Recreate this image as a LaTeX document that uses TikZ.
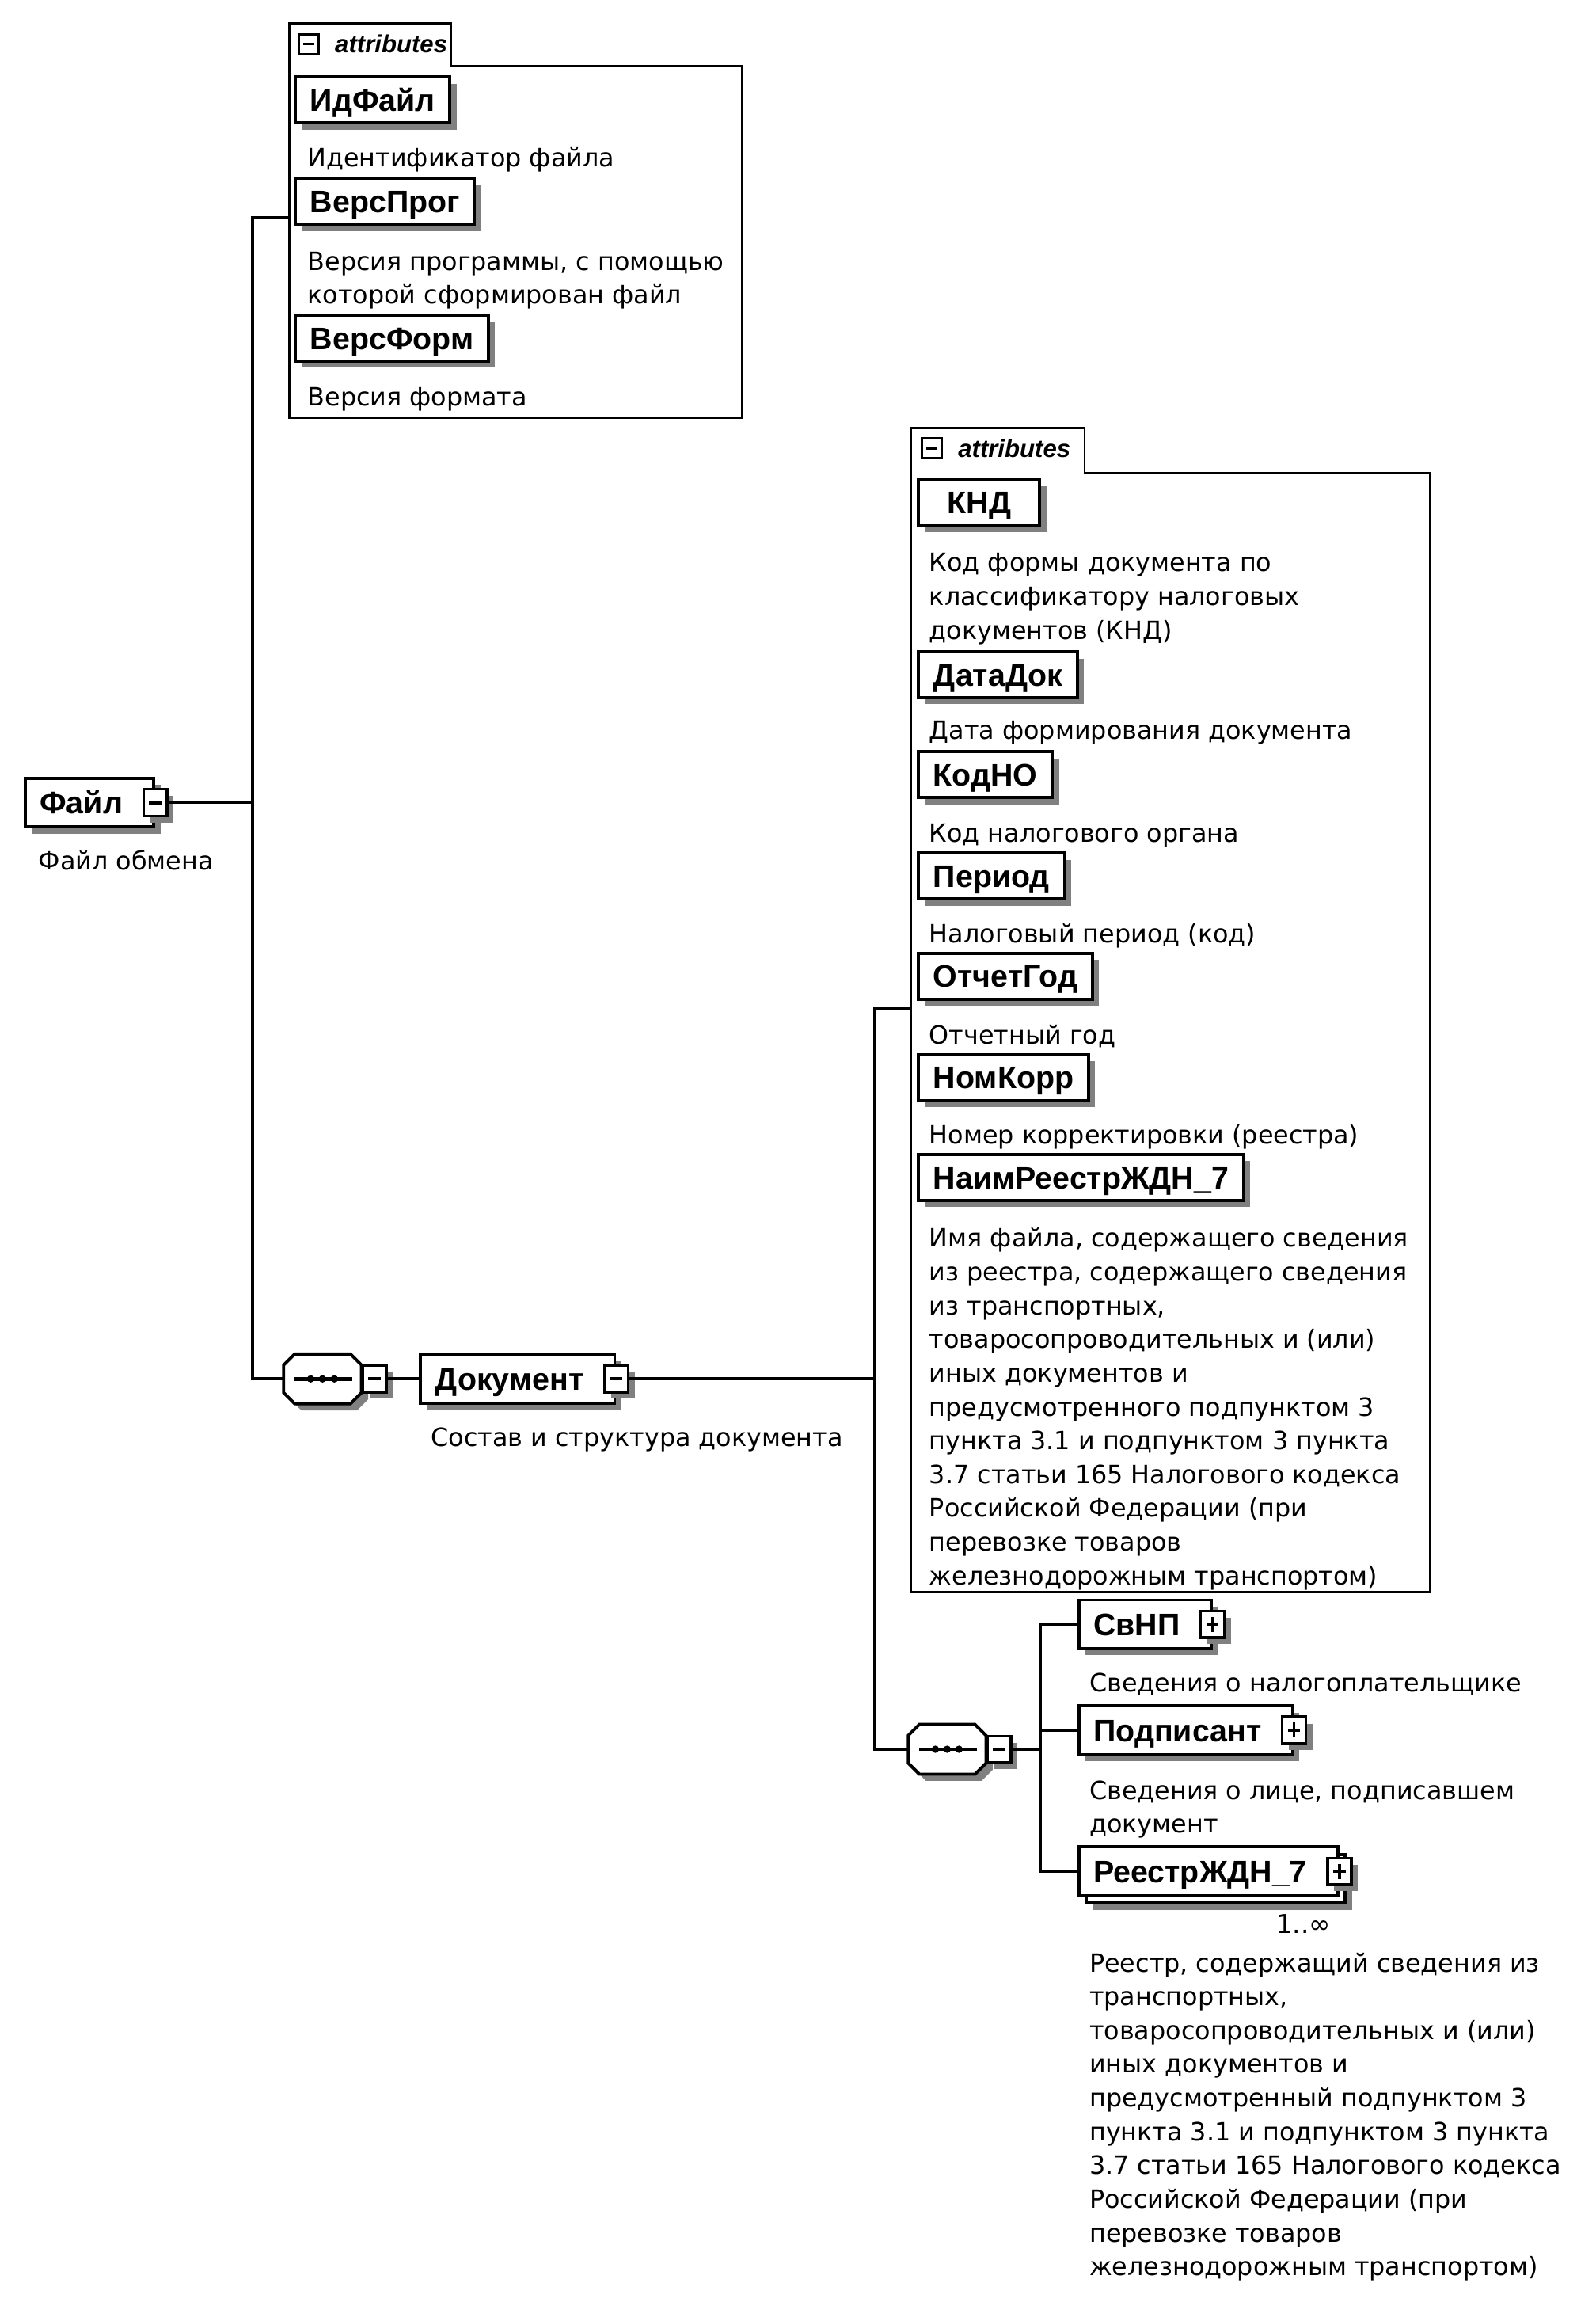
\documentclass[tikz,border=0pt]{standalone}
\usepackage{fontspec}
\setmainfont{DejaVu Sans}
\newfontfamily\namefont{Liberation Sans}
\usepackage{tikz}
\usetikzlibrary{positioning,shadows}

\tikzset{
  wire/.style={line width=1.1pt},
  grp/.style={line width=0.9pt},
  boxshadow/.style={drop shadow={shadow xshift=0.09cm, shadow yshift=-0.09cm, fill=black!50, opacity=1}},
  attr/.style={draw, line width=1.2pt, fill=white, boxshadow, anchor=west,
    font=\namefont\bfseries\fontsize{12}{14}\selectfont,
    inner xsep=0.2cm, inner ysep=0pt, text height=8.6pt, text depth=0pt,
    minimum height=0.62cm, minimum width=1.64cm},
  elem/.style={attr, minimum height=0.66cm, execute at end node={\hspace*{0.22cm}}},
  desc/.style={anchor=north west, inner sep=0pt, align=left, font=\fontsize{9.7}{13}\selectfont},
  btn/.style={draw, line width=1pt, fill=white, boxshadow, minimum width=0.32cm, minimum height=0.36cm, inner sep=0pt},
  btnminus/.style={btn, path picture={
    \draw[line width=1.2pt] ([xshift=2.2pt]path picture bounding box.west) -- ([xshift=-2.2pt]path picture bounding box.east);}},
  btnplus/.style={btn, path picture={
    \draw[line width=1.2pt] ([xshift=2.2pt]path picture bounding box.west) -- ([xshift=-2.2pt]path picture bounding box.east);
    \draw[line width=1.2pt] ([yshift=2.2pt]path picture bounding box.south) -- ([yshift=-2.2pt]path picture bounding box.north);}},
  seqbox/.style={rectangle, minimum width=1.04cm, minimum height=0.66cm, inner sep=0pt, anchor=west},
  seqline/.style={draw, line width=1.2pt, fill=white, boxshadow},
  tabbtn/.style={draw, line width=0.9pt, minimum size=0.27cm, inner sep=0pt, path picture={
    \draw[line width=1pt] ([xshift=1.8pt]path picture bounding box.west) -- ([xshift=-1.8pt]path picture bounding box.east);}},
  tabtext/.style={inner sep=0pt, font=\namefont\bfseries\itshape\fontsize{9.5}{11}\selectfont},
  occurs/.style={inner sep=0pt, font=\fontsize{10}{12}\selectfont}
}

\newcommand\seqmark[1]{%
  \draw[seqline] ([xshift=0.15cm]#1.north west) -- ([xshift=-0.15cm]#1.north east)
    -- ([yshift=-0.15cm]#1.north east) -- ([yshift=0.15cm]#1.south east)
    -- ([xshift=-0.15cm]#1.south east) -- ([xshift=0.15cm]#1.south west)
    -- ([yshift=0.15cm]#1.south west) -- ([yshift=-0.15cm]#1.north west) -- cycle;
  \draw[line width=1.4pt] ([xshift=0.15cm]#1.west) -- ([xshift=-0.12cm]#1.east);
  \fill (#1.center) circle (0.05cm) ([xshift=-0.16cm]#1.center) circle (0.05cm)
    ([xshift=0.16cm]#1.center) circle (0.05cm);}

\begin{document}
\begin{tikzpicture}[x=0.01989cm, y=-0.01989cm]
\useasboundingbox (0,0) rectangle (1086,1566);

\draw[grp] (197,284) -- (197,16) -- (307,16) -- (307,45) -- (505,45) -- (505,284) -- cycle;
\node[tabbtn] (g1min) at (210,30) {};
\node[tabtext, right=0.2cm of g1min] (g1tab) {attributes};
\node[attr] (idfile) at (200,68) {ИдФайл};
\node[desc] (idfiled) at (209,100) {Идентификатор файла};
\node[attr] (versprog) at (200,137) {ВерсПрог};
\node[desc] (versprogd) at (209,171) {Версия программы, с помощью\\которой сформирован файл};
\node[attr] (versform) at (200,230) {ВерсФорм};
\node[desc] (versformd) at (209,263) {Версия формата};

\node[elem] (file) at (16,546) {Файл};
\node[btnminus] (filebtn) at (file.east) {};
\node[desc] (filed) at (26,578) {Файл обмена};

\coordinate (g1in) at (197,148);
\coordinate (bus1top) at (172,148);
\coordinate (bus1bot) at (172,938);
\node[seqbox] (seq1) at (193,938) {};
\seqmark{seq1}
\node[btnminus, anchor=west] (seq1btn) at (seq1.east) {};
\node[elem] (doc) at (285,938) {Документ};
\node[btnminus] (docbtn) at (doc.east) {};
\node[desc] (docd) at (293,971) {Состав и структура документа};
\draw[wire] (filebtn.east) -- (filebtn.east -| bus1top);
\draw[wire] (g1in) -- (bus1top) -- (bus1bot) -- (seq1.west);
\draw[wire] (seq1btn.east) -- (doc.west);

\draw[grp] (620,1083) -- (620,291) -- (738,291) -- (738,322) -- (973,322) -- (973,1083) -- cycle;
\node[tabbtn] (g2min) at (634,305) {};
\node[tabtext, right=0.2cm of g2min] (g2tab) {attributes};
\node[attr] (knd) at (624,342) {КНД};
\node[desc] (kndd) at (632,376) {Код формы документа по\\классификатору налоговых\\документов (КНД)};
\node[attr] (datadok) at (624,459) {ДатаДок};
\node[desc] (datadokd) at (632,490) {Дата формирования документа};
\node[attr] (kodno) at (624,527) {КодНО};
\node[desc] (kodnod) at (632,560) {Код налогового органа};
\node[attr] (period) at (624,596) {Период};
\node[desc] (periodd) at (632,628) {Налоговый период (код)};
\node[attr] (otchgod) at (624,664) {ОтчетГод};
\node[desc] (otchgodd) at (632,697) {Отчетный год};
\node[attr] (nomkorr) at (624,733) {НомКорр};
\node[desc] (nomkorrd) at (632,765) {Номер корректировки (реестра)};
\node[attr] (naimreestr) at (624,801) {НаимРеестрЖДН\_7};
\node[desc] (naimreestrd) at (632,835) {Имя файла, содержащего сведения\\из реестра, содержащего сведения\\из транспортных,\\товаросопроводительных и (или)\\иных документов и\\предусмотренного подпунктом 3\\пункта 3.1 и подпунктом 3 пункта\\3.7 статьи 165 Налогового кодекса\\Российской Федерации (при\\перевозке товаров\\железнодорожным транспортом)};

\coordinate (g2in) at (620,686);
\coordinate (bus2top) at (595,686);
\coordinate (bus2bot) at (595,1190);
\node[seqbox] (seq2) at (618,1190) {};
\seqmark{seq2}
\node[btnminus, anchor=west] (seq2btn) at (seq2.east) {};
\coordinate (bus3top) at (708,1105);
\coordinate (bus3bot) at (708,1273);
\node[elem] (svnp) at (733,1105) {СвНП};
\node[btnplus] (svnpbtn) at (svnp.east) {};
\node[desc] (svnpd) at (741,1138) {Сведения о налогоплательщике};
\node[elem] (podp) at (733,1177) {Подписант};
\node[btnplus] (podpbtn) at (podp.east) {};
\node[desc] (podpd) at (741,1211) {Сведения о лице, подписавшем\\документ};
\node[elem, drop shadow={shadow xshift=0.19cm, shadow yshift=-0.19cm, fill=black!50, opacity=1},
  copy shadow={shadow xshift=0.1cm, shadow yshift=-0.1cm, draw, fill=white, line width=1.2pt}] (reestr) at (733,1273) {РеестрЖДН\_7};
\node[btnplus] (reestrbtn) at (reestr.east) {};
\node[occurs] (reestrocc) at (887,1309) {1..∞};
\node[desc] (reestrd) at (741,1328) {Реестр, содержащий сведения из\\транспортных,\\товаросопроводительных и (или)\\иных документов и\\предусмотренный подпунктом 3\\пункта 3.1 и подпунктом 3 пункта\\3.7 статьи 165 Налогового кодекса\\Российской Федерации (при\\перевозке товаров\\железнодорожным транспортом)};
\draw[wire] (docbtn.east) -- (docbtn.east -| bus2top);
\draw[wire] (g2in) -- (bus2top) -- (bus2bot) -- (seq2.west);
\draw[wire] (seq2btn.east) -- (seq2btn.east -| bus3top);
\draw[wire] (svnp.west) -- (bus3top) -- (bus3bot) -- (reestr.west);
\draw[wire] (podp.west) -- (podp.west -| bus3top);
\end{tikzpicture}
\end{document}
